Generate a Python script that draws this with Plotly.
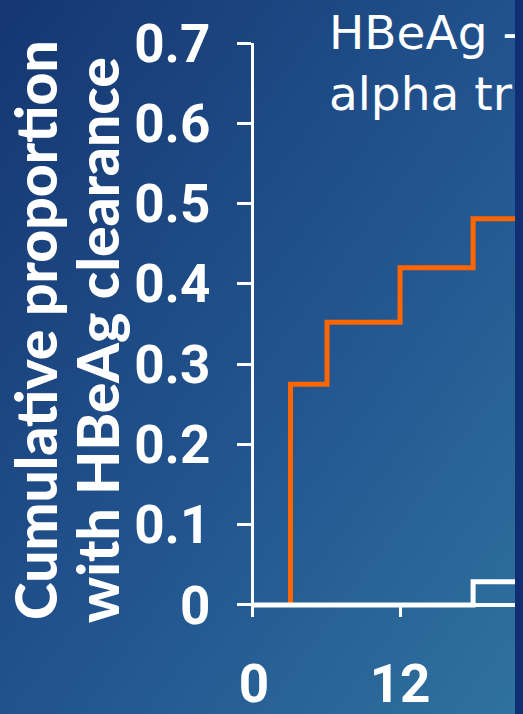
import base64
import plotly.graph_objects as go

# ---- data ----
orange_months = [3, 6, 12, 18]
orange_values = [0.275, 0.352, 0.42, 0.481]
white_months = [0, 18]
white_values = [0.0, 0.029]
x_tick_vals = [0, 12]
x_tick_text = ["0", "12"]
y_tick_vals = [0, 0.1, 0.2, 0.3, 0.4, 0.5, 0.6, 0.7]
y_tick_text = ["0", "0.1", "0.2", "0.3", "0.4", "0.5", "0.6", "0.7"]
y_title_lines = ["Cumulative proportion", "with HBeAg clearance"]
title_lines = ["HBeAg -", "alpha tr"]

W, H = 523, 714
L, T, B = 254, 43, 97
plot_w = W - L
plot_h = H - T - B
X_MAX = 22.1
Y_MIN, Y_MAX = -0.015, 0.7


def px_x(px):
    return (px - L) / plot_w


def px_y(py):
    return (T + plot_h - py) / plot_h


fig = go.Figure()
fig.add_trace(go.Scatter(
    x=[orange_months[0]] + orange_months + [X_MAX],
    y=[0] + orange_values + [orange_values[-1]],
    mode="lines", line=dict(color="#ff6600", width=5, shape="hv"),
    showlegend=False, hoverinfo="skip"))
fig.add_trace(go.Scatter(
    x=white_months + [X_MAX],
    y=white_values + [white_values[-1]],
    mode="lines", line=dict(color="white", width=5, shape="hv"),
    showlegend=False, hoverinfo="skip"))

svg = ('<svg xmlns="http://www.w3.org/2000/svg" width="523" height="714">'
       '<defs><linearGradient id="g" x1="0" y1="0" x2="1" y2="1">'
       '<stop offset="0" stop-color="#153670"/>'
       '<stop offset="0.55" stop-color="#225590"/>'
       '<stop offset="1" stop-color="#2f729e"/>'
       '</linearGradient></defs>'
       '<rect width="523" height="714" fill="url(#g)"/></svg>')
src = "data:image/svg+xml;base64," + base64.b64encode(svg.encode()).decode()

tickfont = dict(family="Roboto", size=53, color="white", weight="bold")
ytitle_font = dict(family="Lato", size=57, color="white", weight=900)
title_font = dict(family="DejaVu Sans", size=47, color="white")

annotations = [
    dict(text=y_title_lines[0], xref="paper", yref="paper",
         x=px_x(35), y=px_y(330), xanchor="center", yanchor="middle",
         textangle=-90, showarrow=False, font=ytitle_font),
    dict(text=y_title_lines[1], xref="paper", yref="paper",
         x=px_x(97), y=px_y(340), xanchor="center", yanchor="middle",
         textangle=-90, showarrow=False, font=ytitle_font),
    dict(text="<br>".join(title_lines), xref="paper", yref="paper",
         x=px_x(327), y=px_y(3), xanchor="left", yanchor="top", align="left",
         showarrow=False, font=title_font),
    dict(text=" ", xref="paper", yref="paper", x=1, xanchor="right",
         y=px_y(H / 2), yanchor="middle",
         width=8, height=H, bgcolor="#0f2f72", borderpad=0,
         borderwidth=0, showarrow=False),
]

fig.update_layout(
    width=W, height=H,
    margin=dict(l=L, r=0, t=T, b=B, pad=0, autoexpand=False),
    paper_bgcolor="#1f4c86", plot_bgcolor="rgba(0,0,0,0)",
    images=[dict(source=src, xref="paper", yref="paper",
                 x=-L / plot_w, y=1 + T / plot_h,
                 sizex=W / plot_w, sizey=H / plot_h,
                 xanchor="left", yanchor="top", sizing="stretch", layer="below")],
    xaxis=dict(range=[0, X_MAX], showgrid=False, zeroline=False, showline=False,
               automargin=False,
               ticks="inside", ticklen=12, tickwidth=3, tickcolor="white",
               tickvals=x_tick_vals, ticktext=x_tick_text,
               tickfont=tickfont, ticklabelstandoff=31),
    yaxis=dict(range=[Y_MIN, Y_MAX], showgrid=False, automargin=False,
               zeroline=True, zerolinecolor="white", zerolinewidth=4,
               showline=True, linecolor="white", linewidth=3,
               ticks="outside", ticklen=14, tickwidth=3, tickcolor="white",
               tickvals=y_tick_vals, ticktext=y_tick_text,
               tickfont=tickfont, ticklabelstandoff=16),
    annotations=annotations,
)

fig.write_html(
    "out.html",
    config={"displayModeBar": False},
    post_script="document.body.style.margin='0';document.body.style.padding='0';",
)
